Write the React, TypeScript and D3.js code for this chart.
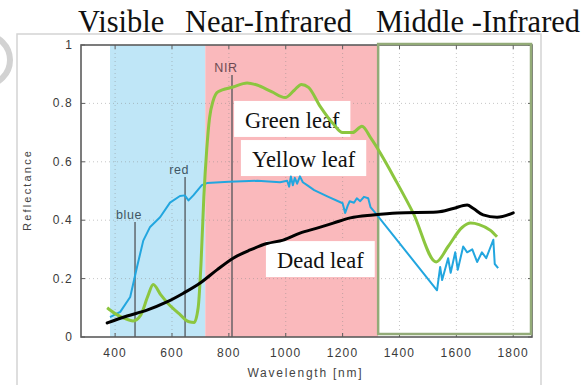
import { useEffect, useRef } from 'react'
import * as d3 from 'd3'

// Spectral reflectance of leaves

const regionTitles = ['Visible', 'Near-Infrared', 'Middle -Infrared']
const xTicks = [400, 600, 800, 1000, 1200, 1400, 1600, 1800]
const yTicks = [0, 0.2, 0.4, 0.6, 0.8, 1]

// wavelength bands [start, end] in nm
const visibleBand = [382, 717]
const nearIrBand = [717, 1325]
const middleIrBand = [1325, 1866]

// marker lines: name, wavelength, top reflectance
const markerNames = ['blue', 'red', 'NIR']
const markerWavelengths = [470, 646, 811]
const markerTops = [0.394, 0.548, 0.897]

// [wavelength nm, reflectance]
const greenLeaf: [number, number][] = [
  [372, 0.1], [400, 0.08], [430, 0.065], [463, 0.055], [490, 0.075], [515, 0.14], [534, 0.18],
  [560, 0.145], [586, 0.115], [625, 0.08], [660, 0.052], [678, 0.05], [692, 0.1], [702, 0.25],
  [712, 0.48], [722, 0.64], [732, 0.75], [745, 0.81], [762, 0.84], [815, 0.856], [864, 0.87],
  [899, 0.863], [950, 0.84], [998, 0.82], [1030, 0.845], [1055, 0.865], [1080, 0.855],
  [1121, 0.79], [1167, 0.73], [1200, 0.7], [1235, 0.7], [1268, 0.722], [1300, 0.68],
  [1392, 0.527], [1448, 0.425], [1529, 0.257], [1571, 0.31], [1620, 0.375], [1650, 0.39],
  [1680, 0.385], [1720, 0.365], [1743, 0.343]
]

const yellowLeaf: [number, number][] = [
  [382, 0.068], [418, 0.086], [453, 0.137], [477, 0.24], [499, 0.33], [523, 0.377], [558, 0.41],
  [593, 0.46], [628, 0.483], [645, 0.485], [658, 0.468], [675, 0.485], [705, 0.52], [723, 0.527],
  [800, 0.532], [900, 0.535], [980, 0.53], [1005, 0.535], [1012, 0.515], [1018, 0.55],
  [1025, 0.52], [1032, 0.545], [1040, 0.525], [1050, 0.55], [1060, 0.53], [1075, 0.52],
  [1100, 0.503], [1150, 0.48], [1200, 0.458], [1209, 0.425], [1218, 0.45], [1225, 0.465],
  [1240, 0.46], [1250, 0.475], [1262, 0.465], [1275, 0.48], [1290, 0.475], [1298, 0.445],
  [1315, 0.425], [1532, 0.16], [1543, 0.24], [1550, 0.195], [1571, 0.27], [1580, 0.22],
  [1596, 0.29], [1605, 0.23], [1624, 0.31], [1638, 0.29], [1656, 0.3], [1673, 0.257],
  [1690, 0.29], [1705, 0.27], [1730, 0.333], [1735, 0.25], [1747, 0.236]
]

const deadLeaf: [number, number][] = [
  [372, 0.048], [442, 0.072], [512, 0.092], [582, 0.12], [640, 0.15], [699, 0.185], [758, 0.23],
  [815, 0.27], [875, 0.298], [934, 0.32], [991, 0.332], [1050, 0.356], [1110, 0.373],
  [1167, 0.39], [1227, 0.408], [1307, 0.418], [1392, 0.425], [1532, 0.428], [1589, 0.44],
  [1638, 0.452], [1660, 0.44], [1694, 0.418], [1743, 0.41], [1800, 0.425]
]

const curveNames = ['Green leaf', 'Yellow leaf', 'Dead leaf']
// label baseline anchor [wavelength, reflectance]
const curveLabelAnchors: [number, number][] = [[857, 0.716], [881, 0.582], [969, 0.236]]

function App() {
  const svgRef = useRef<SVGSVGElement>(null)

  useEffect(() => {
    if (!svgRef.current) return
    const root = d3.select(svgRef.current)
    root.selectAll('*').remove()

    const plot = { left: 81, right: 532, top: 45, bottom: 337 }
    const x = d3.scaleLinear().domain([280, 1866]).range([plot.left, plot.right])
    const y = d3.scaleLinear().domain([0, 1]).range([plot.bottom, plot.top])

    // watermark arc + image frame
    root.append('circle')
      .attr('cx', -15).attr('cy', 60).attr('r', 25)
      .attr('fill', 'none').attr('stroke', '#d2d2d2').attr('stroke-width', 6)
    root.append('path')
      .attr('d', `M17,385 V34 H541 V385`)
      .attr('fill', 'none').attr('stroke', '#d4d4d4').attr('stroke-width', 1.5)

    // region titles
    const titleX = [78, 185, 376]
    root.selectAll('text.title')
      .data(regionTitles)
      .enter()
      .append('text')
      .attr('class', 'title')
      .attr('x', (_, i) => titleX[i])
      .attr('y', 32)
      .style('font-family', '"Liberation Serif", "Times New Roman", serif')
      .style('font-size', '30.5px')
      .style('fill', '#111')
      .text(d => d)

    // bands
    root.append('rect')
      .attr('x', x(visibleBand[0])).attr('y', plot.top)
      .attr('width', x(visibleBand[1]) - x(visibleBand[0]))
      .attr('height', plot.bottom - plot.top)
      .attr('fill', '#bfe6f7')
    root.append('rect')
      .attr('x', x(nearIrBand[0])).attr('y', plot.top)
      .attr('width', x(nearIrBand[1]) - x(nearIrBand[0]))
      .attr('height', plot.bottom - plot.top)
      .attr('fill', '#fab9bc')

    // grid
    const grid = root.append('g')
      .attr('stroke', '#8a8a8a').attr('stroke-width', 0.8)
      .attr('stroke-dasharray', '1,3').attr('opacity', 0.6)
    grid.selectAll('line.gx')
      .data(xTicks)
      .enter().append('line')
      .attr('x1', d => x(d)).attr('x2', d => x(d))
      .attr('y1', plot.top).attr('y2', plot.bottom)
    grid.selectAll('line.gy')
      .data(yTicks.filter(d => d > 0 && d < 1))
      .enter().append('line')
      .attr('x1', plot.left).attr('x2', plot.right)
      .attr('y1', d => y(d)).attr('y2', d => y(d))

    // marker lines
    const markers = root.append('g')
    markerNames.forEach((name, i) => {
      const mx = x(markerWavelengths[i])
      markers.append('line')
        .attr('x1', mx).attr('x2', mx)
        .attr('y1', y(markerTops[i])).attr('y2', plot.bottom)
        .attr('stroke', '#4f5357').attr('stroke-width', 1.5).attr('opacity', 0.85)
      markers.append('text')
        .attr('x', mx - 6)
        .attr('y', y(markerTops[i]) - 3)
        .attr('text-anchor', 'middle')
        .style('font-family', '"Liberation Sans", Arial, sans-serif')
        .style('font-size', '12.5px')
        .style('letter-spacing', '0.6px')
        .style('fill', i === 2 ? '#6d4a52' : '#3f5664')
        .text(name)
    })

    // frame + ticks
    root.append('rect')
      .attr('x', plot.left).attr('y', plot.top)
      .attr('width', plot.right - plot.left).attr('height', plot.bottom - plot.top)
      .attr('fill', 'none').attr('stroke', '#5c5c5c').attr('stroke-width', 1.6)
    const ticks = root.append('g').attr('stroke', '#5c5c5c').attr('stroke-width', 1)
    xTicks.forEach(t => {
      ticks.append('line').attr('x1', x(t)).attr('x2', x(t)).attr('y1', plot.bottom).attr('y2', plot.bottom - 4)
      ticks.append('line').attr('x1', x(t)).attr('x2', x(t)).attr('y1', plot.top).attr('y2', plot.top + 4)
    })
    yTicks.forEach(t => {
      ticks.append('line').attr('x1', plot.left).attr('x2', plot.left + 4).attr('y1', y(t)).attr('y2', y(t))
      ticks.append('line').attr('x1', plot.right).attr('x2', plot.right - 4).attr('y1', y(t)).attr('y2', y(t))
    })

    // middle infrared band outline
    root.append('rect')
      .attr('x', x(middleIrBand[0])).attr('y', plot.top - 1)
      .attr('width', x(middleIrBand[1]) - x(middleIrBand[0]) - 1)
      .attr('height', plot.bottom - plot.top - 2)
      .attr('fill', 'none').attr('stroke', '#93ab78').attr('stroke-width', 2.5)

    // tick labels
    const tickFont = '"Liberation Sans", Arial, sans-serif'
    root.selectAll('text.xt')
      .data(xTicks)
      .enter().append('text')
      .attr('class', 'xt')
      .attr('x', d => x(d))
      .attr('y', plot.bottom + 20)
      .attr('text-anchor', 'middle')
      .style('font-family', tickFont)
      .style('font-size', '12px')
      .style('letter-spacing', '1.2px')
      .style('fill', '#3a3a3a')
      .text(d => String(d))
    root.selectAll('text.yt')
      .data(yTicks)
      .enter().append('text')
      .attr('class', 'yt')
      .attr('x', plot.left - 8)
      .attr('y', d => y(d) + 4)
      .attr('text-anchor', 'end')
      .style('font-family', tickFont)
      .style('font-size', '12px')
      .style('letter-spacing', '1.2px')
      .style('fill', '#3a3a3a')
      .text(d => (d === 0 || d === 1 ? String(d) : d.toFixed(1)))

    // axis titles
    root.append('text')
      .attr('x', (plot.left + plot.right) / 2 - 2)
      .attr('y', plot.bottom + 40)
      .attr('text-anchor', 'middle')
      .attr('textLength', 114)
      .attr('lengthAdjust', 'spacing')
      .style('font-family', tickFont)
      .style('font-size', '12px')
      .style('fill', '#444')
      .text('Wavelength [nm]')
    root.append('text')
      .attr('transform', `translate(31,${(plot.top + plot.bottom) / 2}) rotate(-90)`)
      .attr('text-anchor', 'middle')
      .attr('textLength', 80)
      .attr('lengthAdjust', 'spacing')
      .style('font-family', tickFont)
      .style('font-size', '11px')
      .style('fill', '#444')
      .text('Reflectance')

    // curve labels with white boxes
    const labels = root.append('g')
    curveNames.forEach((name, i) => {
      const [lw, lr] = curveLabelAnchors[i]
      const tx = x(lw)
      const ty = y(lr)
      const box = labels.append('rect').attr('fill', '#fff')
      const txt = labels.append('text')
        .attr('x', tx).attr('y', ty)
        .style('font-family', '"Liberation Serif", "Times New Roman", serif')
        .style('font-size', '22.5px')
        .style('fill', '#111')
        .text(name)
      const w = (txt.node() as SVGTextElement).getComputedTextLength()
      box.attr('x', tx - 11).attr('y', ty - 27).attr('width', w + 22).attr('height', 36)
    })

    // curves
    const line = d3.line<[number, number]>()
      .x(d => x(d[0]))
      .y(d => y(d[1]))
    const lineSmooth = d3.line<[number, number]>()
      .x(d => x(d[0]))
      .y(d => y(d[1]))
      .curve(d3.curveMonotoneX)

    root.append('path')
      .datum(yellowLeaf)
      .attr('d', line)
      .attr('fill', 'none')
      .attr('stroke', '#22a6df')
      .attr('stroke-width', 2)
      .attr('stroke-linejoin', 'round')
    root.append('path')
      .datum(greenLeaf)
      .attr('d', lineSmooth)
      .attr('fill', 'none')
      .attr('stroke', '#8cc63f')
      .attr('stroke-width', 3)
      .attr('stroke-linejoin', 'round')
    root.append('path')
      .datum(deadLeaf)
      .attr('d', lineSmooth)
      .attr('fill', 'none')
      .attr('stroke', '#000')
      .attr('stroke-width', 3)
      .attr('stroke-linecap', 'round')
  }, [])

  return (
    <svg
      ref={svgRef}
      width={587}
      height={385}
      style={{ position: 'absolute', left: 0, top: 0, background: '#fff' }}
    />
  )
}

export default App
